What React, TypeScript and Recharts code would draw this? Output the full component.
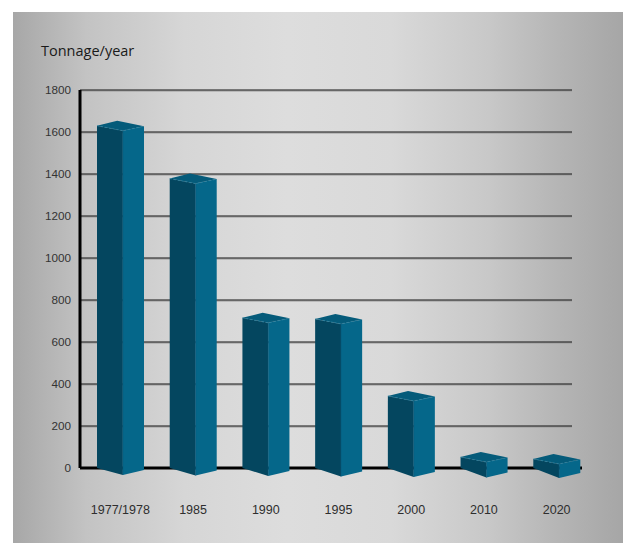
import React from 'react';
import { BarChart, Bar, XAxis, YAxis, CartesianGrid } from 'recharts';

const categories = ['1977/1978', '1985', '1990', '1995', '2000', '2010', '2020'];
const tonnage = [1630, 1378, 715, 710, 343, 52, 43];
const yTicks = [0, 200, 400, 600, 800, 1000, 1200, 1400, 1600, 1800];
const yTitle = 'Tonnage/year';

const data = categories.map((c, i) => ({ year: c, value: tonnage[i] }));

const LEFT = '#04465f';
const RIGHT = '#05678a';
const TOP = '#055b7a';

const Prism = (props: any) => {
  const { x, y, width, height } = props;
  if (x == null || y == null) return null;
  const base = y + height;
  const xf = x + width * 0.55;
  const xb = x + width * 0.43;
  const xr = x + width;
  const lean = (x - 97) / 436; // perspective grows to the right
  const fd = 7 + lean * 3;
  const rd = 2 + lean * 3;
  const topF = y + 5;
  const topB = y - 5;
  const topR = y + 0.5;
  return (
    <g>
      <polygon points={`${x},${y} ${xf},${topF} ${xf},${base + fd} ${x},${base}`} fill={LEFT} />
      <polygon points={`${xf},${topF} ${xr},${topR} ${xr},${base + rd} ${xf},${base + fd}`} fill={RIGHT} />
      <polygon points={`${x},${y} ${xb},${topB} ${xr},${topR} ${xf},${topF}`} fill={TOP} />
      <polyline
        points={`${x},${y} ${xf},${topF} ${xr},${topR}`}
        fill="none"
        stroke="#2f87a6"
        strokeWidth={0.7}
        strokeDasharray="2 2"
      />
      <line x1={xf} y1={topF} x2={xf} y2={base + fd} stroke="#0a5878" strokeWidth={0.6} />
    </g>
  );
};

const GridLine = (props: any) => {
  const { x1, y1, x2, y2, y, height } = props;
  const isBase = Math.abs(y1 - (y + height)) < 1;
  if (isBase) {
    return <line x1={x1} y1={y1} x2={x2 - 11} y2={y2} stroke="#000" strokeWidth={3} />;
  }
  return (
    <g>
      <line x1={x1} y1={y1 + 1} x2={x2 - 21} y2={y2 + 1} stroke="#9a9a9a" strokeWidth={1} />
      <line x1={x1} y1={y1} x2={x2 - 21} y2={y2} stroke="#151515" strokeWidth={1.1} />
    </g>
  );
};

export default function App() {
  return (
    <div style={{ position: 'absolute', left: 0, top: 0, width: 623, height: 543, background: '#fff' }}>
      <div
        style={{
          position: 'absolute',
          left: 13,
          top: 12,
          width: 610,
          height: 531,
          background:
            'linear-gradient(to right, #a7a7a7 0%, #c3c3c3 12%, #d6d6d6 28%, #dddddd 45%, #d9d9d9 62%, #c8c8c8 78%, #b4b4b4 90%, #a6a6a6 100%)',
        }}
      />
      <div
        style={{
          position: 'absolute',
          left: 41,
          top: 40,
          fontFamily: '"Open Sans", "Liberation Sans", sans-serif',
          fontSize: 14.5,
          color: '#1a1a1a',
          lineHeight: '22px',
          whiteSpace: 'nowrap',
        }}
      >
        {yTitle}
      </div>
      <div style={{ position: 'absolute', left: 0, top: 0 }}>
        <BarChart
          width={623}
          height={543}
          data={data}
          margin={{ top: 90, right: 30, bottom: 45, left: 20 }}
          barSize={47}
        >
          <CartesianGrid vertical={false} horizontal={(p: any) => <GridLine {...p} />} />
          <XAxis
            dataKey="year"
            height={30}
            axisLine={false}
            tickLine={false}
            tickSize={0}
            tickMargin={37}
            padding={{ left: 4, right: 0 }}
            interval={0}
            tick={{ fill: '#2e2e2e', fontSize: 12.5, fontFamily: '"Liberation Sans", Arial, sans-serif' }}
          />
          <YAxis
            width={60}
            domain={[0, 1800]}
            ticks={yTicks}
            interval={0}
            axisLine={{ stroke: '#000', strokeWidth: 3 }}
            tickLine={false}
            tickSize={0}
            tickMargin={9}
            tick={{ fill: '#333', fontSize: 11.7, fontFamily: '"Liberation Sans", Arial, sans-serif' }}
          />
          <Bar dataKey="value" shape={(p: any) => <Prism {...p} />} isAnimationActive={false} />
        </BarChart>
      </div>
    </div>
  );
}
